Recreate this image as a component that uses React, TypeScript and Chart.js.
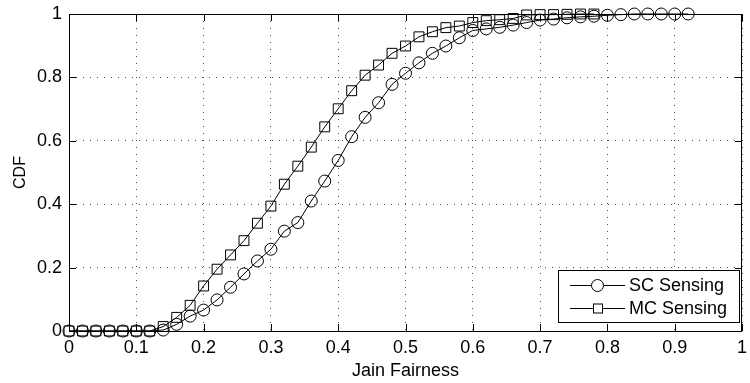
import React, { useEffect, useRef } from "react";
import { Chart, registerables } from "chart.js";

Chart.register(...registerables);

const SC_X = [0, 0.02, 0.04, 0.06, 0.08, 0.1, 0.12, 0.14, 0.16, 0.18, 0.2, 0.22, 0.24, 0.26, 0.28, 0.3, 0.32, 0.34, 0.36, 0.38, 0.4, 0.42, 0.44, 0.46, 0.48, 0.5, 0.52, 0.54, 0.56, 0.58, 0.6, 0.62, 0.64, 0.66, 0.68, 0.7, 0.72, 0.74, 0.76, 0.78, 0.8, 0.82, 0.84, 0.86, 0.88, 0.9, 0.92];
const SC_Y = [0, 0, 0, 0, 0, 0, 0, 0.003, 0.021, 0.047, 0.066, 0.098, 0.138, 0.18, 0.221, 0.258, 0.315, 0.342, 0.41, 0.473, 0.538, 0.613, 0.674, 0.72, 0.778, 0.813, 0.846, 0.876, 0.899, 0.925, 0.948, 0.953, 0.958, 0.965, 0.973, 0.981, 0.984, 0.988, 0.991, 0.993, 0.996, 0.998, 1, 1, 1, 1, 1];

const MC_X = [0, 0.02, 0.04, 0.06, 0.08, 0.1, 0.12, 0.14, 0.16, 0.18, 0.2, 0.22, 0.24, 0.26, 0.28, 0.3, 0.32, 0.34, 0.36, 0.38, 0.4, 0.42, 0.44, 0.46, 0.48, 0.5, 0.52, 0.54, 0.56, 0.58, 0.6, 0.62, 0.64, 0.66, 0.68, 0.7, 0.72, 0.74, 0.76, 0.78];
const MC_Y = [0, 0, 0, 0, 0, 0, 0, 0.014, 0.043, 0.081, 0.142, 0.195, 0.24, 0.285, 0.34, 0.394, 0.463, 0.52, 0.58, 0.644, 0.701, 0.758, 0.807, 0.839, 0.876, 0.899, 0.928, 0.944, 0.957, 0.962, 0.973, 0.979, 0.982, 0.986, 0.997, 0.998, 0.998, 0.999, 1, 1];

const SERIES_LABELS = ["SC Sensing", "MC Sensing"];
const X_TITLE = "Jain Fairness";
const Y_TITLE = "CDF";

const FONT = "'Liberation Sans', Arial, Helvetica, sans-serif";

const boxPlugin = {
  id: "matlabBox",
  afterDraw(chart: any) {
    const { ctx, chartArea: a, scales } = chart;
    const xs = scales.x;
    const ys = scales.y;
    ctx.save();
    ctx.strokeStyle = "#000";
    ctx.lineWidth = 1;
    ctx.setLineDash([]);
    ctx.beginPath();
    ctx.rect(a.left + 0.5, a.top + 0.5, a.right - a.left - 1, a.bottom - a.top);
    ctx.stroke();
    const tl = 7;
    ctx.beginPath();
    xs.ticks.forEach((t: any) => {
      const px = Math.round(xs.getPixelForValue(t.value)) + 0.5;
      ctx.moveTo(px, a.bottom);
      ctx.lineTo(px, a.bottom - tl);
      ctx.moveTo(px, a.top);
      ctx.lineTo(px, a.top + tl);
    });
    ys.ticks.forEach((t: any) => {
      const py = Math.round(ys.getPixelForValue(t.value)) + 0.5;
      ctx.moveTo(a.left, py);
      ctx.lineTo(a.left + tl, py);
      ctx.moveTo(a.right, py);
      ctx.lineTo(a.right - tl, py);
    });
    ctx.stroke();

    // legend
    const lx = 558, ly = 270, lw = 181, lh = 52;
    ctx.fillStyle = "#fff";
    ctx.fillRect(lx, ly, lw, lh);
    ctx.strokeRect(lx + 0.5, ly + 0.5, lw, lh);
    const rows = [285, 308];
    chart.data.datasets.forEach((ds: any, i: number) => {
      const y = rows[i] + 0.5;
      ctx.beginPath();
      ctx.moveTo(570, y);
      ctx.lineTo(625, y);
      ctx.stroke();
      ctx.beginPath();
      if (ds.pointStyle === "rect") {
        ctx.fillStyle = "#fff";
        ctx.fillRect(593.5, y - 4.5, 9, 9);
        ctx.strokeRect(593.5, y - 4.5, 9, 9);
      } else {
        ctx.arc(597.5, y, 6, 0, Math.PI * 2);
        ctx.fillStyle = "#fff";
        ctx.fill();
        ctx.stroke();
      }
      ctx.fillStyle = "#000";
      ctx.font = `18px ${FONT}`;
      ctx.textBaseline = "middle";
      ctx.textAlign = "left";
      ctx.fillText(ds.label, 629, y + 1);
    });
    ctx.restore();
  },
};

export default function App() {
  const ref = useRef<HTMLCanvasElement | null>(null);
  useEffect(() => {
    document.body.style.margin = "0";
    const canvas = ref.current;
    if (!canvas) return;
    const chart = new Chart(canvas, {
      type: "line",
      data: {
        datasets: [
          {
            label: SERIES_LABELS[0],
            data: SC_X.map((x, i) => ({ x, y: SC_Y[i] })),
            borderColor: "#000",
            borderWidth: 1,
            pointStyle: "circle",
            pointRadius: 6,
            pointBorderWidth: 1,
            pointBorderColor: "#000",
            pointBackgroundColor: "rgba(0,0,0,0)",
            tension: 0,
            clip: false,
          },
          {
            label: SERIES_LABELS[1],
            data: MC_X.map((x, i) => ({ x, y: MC_Y[i] })),
            borderColor: "#000",
            borderWidth: 1,
            pointStyle: "rect",
            pointRadius: 7,
            pointBorderWidth: 1,
            pointBorderColor: "#000",
            pointBackgroundColor: "rgba(0,0,0,0)",
            tension: 0,
            clip: false,
          },
        ],
      },
      options: {
        responsive: false,
        animation: false,
        layout: { padding: { left: 0, right: 3, top: 14, bottom: 0 } },
        plugins: { legend: { display: false }, tooltip: { enabled: false } },
        scales: {
          x: {
            type: "linear",
            min: 0,
            max: 1,
            ticks: {
              stepSize: 0.1,
              padding: 6,
              color: "#000",
              font: { family: FONT, size: 18 },
              maxRotation: 0,
              callback: (v: any) => String(Math.round(Number(v) * 10) / 10),
            },
            grid: { color: "rgba(0,0,0,0.7)", lineWidth: 1, drawTicks: false },
            border: { display: false, dash: [1, 6] },
            title: {
              display: true,
              text: X_TITLE,
              color: "#000",
              font: { family: FONT, size: 18 },
              padding: { top: 0, bottom: 1 },
            },
            afterFit: (s: any) => {
              s.height = 52;
              s.paddingLeft = 0;
              s.paddingRight = 0;
            },
          },
          y: {
            type: "linear",
            min: 0,
            max: 1,
            ticks: {
              stepSize: 0.2,
              padding: 7,
              color: "#000",
              font: { family: FONT, size: 18 },
              callback: (v: any) => String(Math.round(Number(v) * 10) / 10),
            },
            grid: { color: "rgba(0,0,0,0.7)", lineWidth: 1, drawTicks: false },
            border: { display: false, dash: [1, 6] },
            title: {
              display: true,
              text: Y_TITLE,
              color: "#000",
              font: { family: FONT, size: 16 },
              padding: { top: 11, bottom: 0 },
            },
            afterFit: (s: any) => {
              s.width = 69;
              s.paddingTop = 0;
              s.paddingBottom = 0;
            },
          },
        },
      },
      plugins: [boxPlugin],
    });
    return () => chart.destroy();
  }, []);
  return (
    <div style={{ width: 750, height: 383, background: "#fff" }}>
      <canvas ref={ref} width={750} height={383} />
    </div>
  );
}
